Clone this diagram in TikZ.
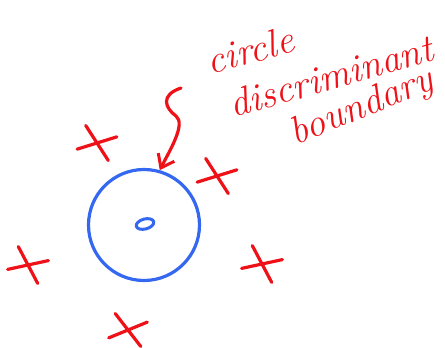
\documentclass[tikz,border=0pt]{standalone}
\usepackage{tikz}
\usetikzlibrary{shapes.misc, arrows.meta, positioning, calc}
\definecolor{penred}{RGB}{238,18,24}
\definecolor{penblue}{RGB}{52,104,240}
\tikzset{
  crossmark/.style={cross out, draw=penred, line width=3.2pt, minimum width=30pt, minimum height=22pt, inner sep=0pt, line cap=round},
  boundary/.style={circle, draw=penblue, line width=3.2pt, minimum size=111pt, inner sep=0pt},
  note/.style={text=penred, font=\fontsize{39}{39}\selectfont\itshape, inner sep=0pt},
  pointer/.style={-{Straight Barb[length=12pt, width=18pt, line width=3pt]}, draw=penred, line width=3.2pt, line cap=round},
}
\begin{document}
\begin{tikzpicture}[x=1pt, y=-1pt]
  \useasboundingbox (0,0) rectangle (445,348);

  % circular boundary and inner class
  \node[boundary] (bdry) at (144,225) {};
  \draw[penblue, line width=3pt, rotate around={15:(145,224)}] (145,224) ellipse (9pt and 5pt);

  % outer class
  \node[crossmark, rotate=-20] (x1) at (97,143) {};
  \node[crossmark, rotate=-20] (x2) at (217,176) {};
  \node[crossmark, rotate=-25] (x3) at (28,265) {};
  \node[crossmark, rotate=-25] (x4) at (262,264) {};
  \node[crossmark, rotate=-15] (x5) at (128,330) {};

  % handwritten label
  \node[note, rotate=15] (lbl1) at (250,50) {circle};
  \node[note, rotate=16] (lbl2) at (331,76) {discriminant};
  \node[note, rotate=22] (lbl3) at (362,108) {boundary};

  % squiggly pointer
  \coordinate (squig) at (181,88);
  \draw[pointer] (squig) .. controls (160,95) and (165,108) .. (176,116)
    .. controls (186,124) and (170,150) .. (bdry.74);
\end{tikzpicture}
\end{document}
